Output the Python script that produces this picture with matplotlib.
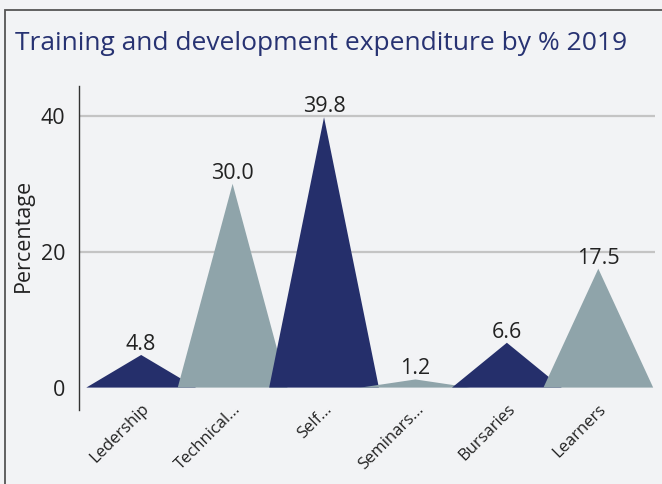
import matplotlib.pyplot as plt
from matplotlib.patches import Polygon, Rectangle

plt.rcParams['font.family'] = ['Open Sans', 'DejaVu Sans']

# data
categories = ['Ledership', 'Technical...', 'Self...', 'Seminars...', 'Bursaries', 'Learners']
values = [4.8, 30.0, 39.8, 1.2, 6.6, 17.5]
colors = ['#252f6b', '#8fa4aa', '#252f6b', '#8fa4aa', '#252f6b', '#8fa4aa']
yticks = [0, 20, 40]

bg = '#f2f3f5'
fig = plt.figure(figsize=(6.62, 4.84), dpi=100, facecolor=bg)

# outer frame
fig.patches.append(Rectangle((4.5 / 662, -0.1), 1.2, 1.1 - 10 / 484,
                             transform=fig.transFigure, fill=False,
                             edgecolor='#555555', lw=1.3))

fig.text(15 / 662, 1 - 50 / 484, 'Training and development expenditure by % 2019',
         color='#273272', fontsize=19, va='baseline', ha='left')

ax = fig.add_axes([79 / 662, 1 - 410 / 484, (655 - 79) / 662, (410 - 86) / 484])
ax.set_facecolor(bg)
ax.set_xlim(-0.68, 5.62)
ax.set_ylim(-3.3, 44.4)

half = 0.6
for i, (v, c) in enumerate(zip(values, colors)):
    tri = Polygon([(i - half, 0), (i, v), (i + half, 0)], closed=True,
                  facecolor=c, edgecolor='none', zorder=2 + i)
    ax.add_patch(tri)
    ax.annotate(f'{v:.1f}', (i, v), xytext=(0, 5), textcoords='offset pixels',
                ha='center', va='baseline', fontsize=15.5, color='#222222', zorder=20)

ax.set_yticks(yticks)
ax.set_yticklabels([str(t) for t in yticks], fontsize=15.5, color='#222222')
for t in yticks[1:]:
    ax.axhline(t, color='#c4c4c4', lw=1.6, zorder=1)

ax.set_xticks(range(len(categories)))
ax.set_xticklabels(categories, rotation=45, ha='right', rotation_mode='anchor',
                   fontsize=12, color='#222222')
ax.tick_params(axis='both', length=0)
ax.tick_params(axis='x', pad=-6.5)
ax.tick_params(axis='y', pad=10)

for s in ['top', 'right', 'bottom']:
    ax.spines[s].set_visible(False)
ax.spines['left'].set_color('#333333')
ax.spines['left'].set_linewidth(1.0)

ax.set_ylabel('Percentage', fontsize=15.5, color='#222222', va='center')
ax.yaxis.set_label_coords(-0.097, 0.54)

fig.savefig('out.png', dpi=100, facecolor=bg)
